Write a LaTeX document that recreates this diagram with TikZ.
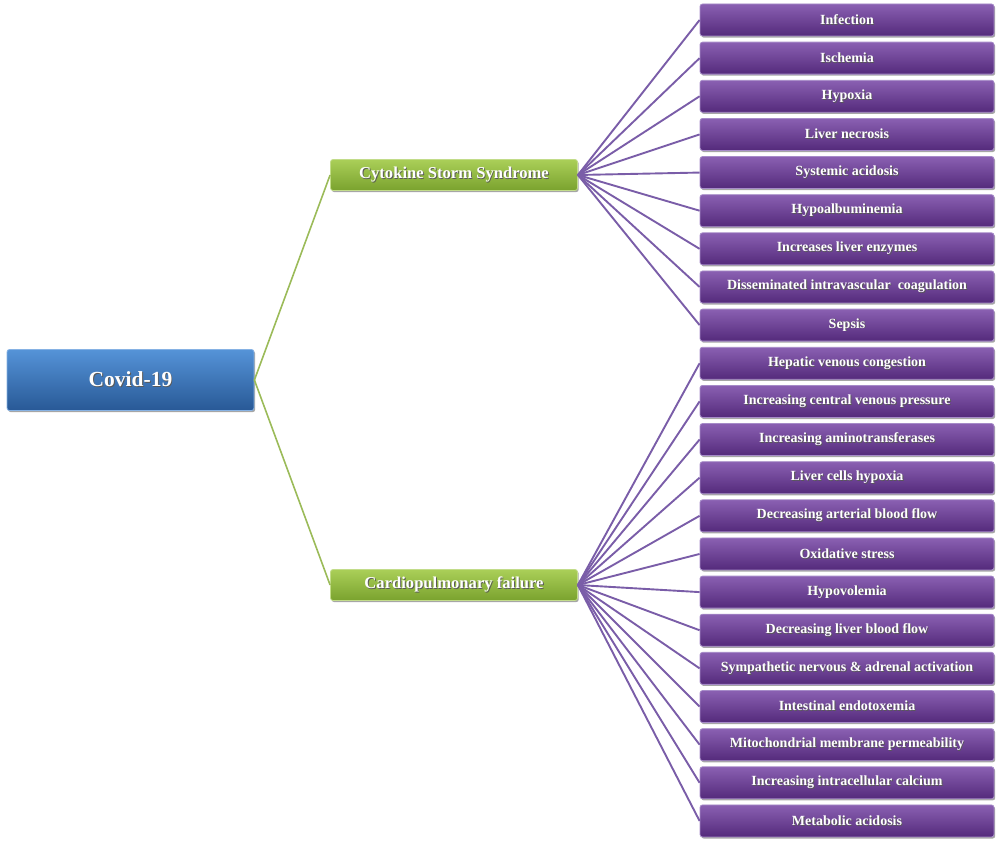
\documentclass[tikz,border=0pt]{standalone}
\usepackage{fontspec}
\setmainfont{Liberation Serif}
\usetikzlibrary{shadows}
\definecolor{purpT}{HTML}{8A60B2}
\definecolor{purpM}{HTML}{693B94}
\definecolor{purpB}{HTML}{542A7B}
\definecolor{purpE}{HTML}{A68BC8}
\definecolor{grnT}{HTML}{AACF58}
\definecolor{grnM}{HTML}{93BC3E}
\definecolor{grnB}{HTML}{7AA22E}
\definecolor{grnE}{HTML}{C2DC8A}
\definecolor{bluT}{HTML}{5593D8}
\definecolor{bluM}{HTML}{3570B8}
\definecolor{bluB}{HTML}{285996}
\definecolor{bluE}{HTML}{86B2E4}
\definecolor{pline}{HTML}{7A5DA8}
\definecolor{gline}{HTML}{9BBB59}
\newcommand\tsh[1]{\leavevmode\rlap{\kern0.9pt\raisebox{-0.9pt}{\color{black!65}#1}}#1}
\tikzset{
  boxbase/.style={rectangle, rounded corners=2.5pt, line width=0.8pt, text=white, inner sep=0pt,
    drop shadow={shadow xshift=1.2pt, shadow yshift=-1.6pt, opacity=0.35, fill=black}},
  pbox/.style={boxbase, minimum width=294pt, minimum height=32pt,
    top color=purpT, middle color=purpM, bottom color=purpB, draw=purpE,
    font=\bfseries\fontsize{14}{16}\selectfont},
  gbox/.style={boxbase, minimum width=247pt, minimum height=31pt,
    top color=grnT, middle color=grnM, bottom color=grnB, draw=grnE,
    font=\bfseries\fontsize{16.6}{18}\selectfont},
  bbox/.style={boxbase, minimum width=247pt, minimum height=61pt,
    top color=bluT, middle color=bluM, bottom color=bluB, draw=bluE,
    font=\bfseries\fontsize{21.5}{24}\selectfont},
  plink/.style={draw=pline, line width=1.9pt},
  glink/.style={draw=gline, line width=1.6pt},
}
\begin{document}
\begin{tikzpicture}[x=1pt, y=-1pt]
\useasboundingbox (0,0) rectangle (1000,845);
\node[bbox] (covid) at (130.5,380) {\tsh{Covid-19}};
\node[gbox] (css) at (454,175) {\tsh{Cytokine Storm Syndrome}};
\node[gbox] (cpf) at (454,585) {\tsh{Cardiopulmonary failure}};
\foreach \t [count=\i] in {Infection, Ischemia, Hypoxia, Liver necrosis, Systemic acidosis, Hypoalbuminemia, Increases liver enzymes, Disseminated intravascular\ \ coagulation, Sepsis, Hepatic venous congestion, Increasing central venous pressure, Increasing aminotransferases, Liver cells hypoxia, Decreasing arterial blood flow, Oxidative stress, Hypovolemia, Decreasing liver blood flow, Sympathetic nervous \& adrenal activation, Intestinal endotoxemia, Mitochondrial membrane permeability, Increasing intracellular calcium, Metabolic acidosis}
  \node[pbox] (p\i) at (847,{20+38.14*(\i-1)}) {\tsh{\t}};
\draw[glink] (covid.east) -- (css.west);
\draw[glink] (covid.east) -- (cpf.west);
\foreach \i in {1,...,9} \draw[plink] (css.east) -- (p\i.west);
\foreach \i in {10,...,22} \draw[plink] (cpf.east) -- (p\i.west);
\end{tikzpicture}
\end{document}
